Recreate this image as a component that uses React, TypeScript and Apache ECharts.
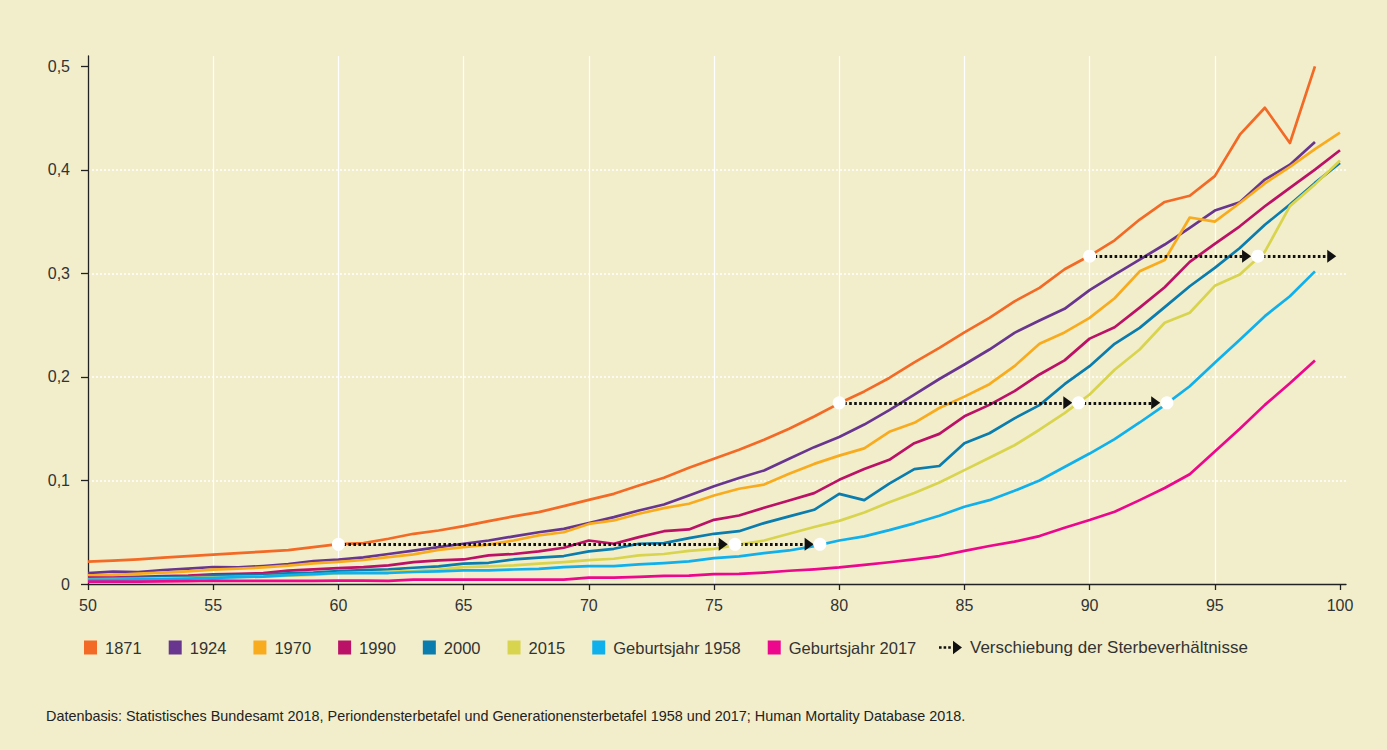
import React, { useEffect, useRef } from "react";
import * as echarts from "echarts";

const AGES: number[] = [];
for (let a = 50; a <= 100; a++) AGES.push(a);

const X_TICKS = [50, 55, 60, 65, 70, 75, 80, 85, 90, 95, 100];
const Y_TICKS = [0, 0.1, 0.2, 0.3, 0.4, 0.5];

const NAMES = ["1871", "1924", "1970", "1990", "2000", "2015", "Geburtsjahr 1958", "Geburtsjahr 2017"];
const COLORS = ["#f26a25", "#68368f", "#f9ab1e", "#bb1166", "#0a7cad", "#d9d44e", "#10b0ec", "#ec078d"];

// values for ages 50..100 (null = no value)
const V1871 = [0.0216, 0.0225, 0.0238, 0.0254, 0.027, 0.0283, 0.0299, 0.0312, 0.0328, 0.0357, 0.0386, 0.0395, 0.0437, 0.0485, 0.0517, 0.0559, 0.0607, 0.0653, 0.0694, 0.0752, 0.0813, 0.0871, 0.0952, 0.1026, 0.1122, 0.1209, 0.1296, 0.1393, 0.1499, 0.1618, 0.1745, 0.186, 0.199, 0.214, 0.228, 0.243, 0.257, 0.273, 0.286, 0.304, 0.317, 0.332, 0.352, 0.369, 0.375, 0.394, 0.434, 0.46, 0.426, 0.5, null];
const V1924 = [0.0106, 0.0119, 0.0116, 0.0135, 0.0148, 0.0164, 0.016, 0.0174, 0.0193, 0.0222, 0.0236, 0.0258, 0.029, 0.0322, 0.0356, 0.0389, 0.042, 0.046, 0.05, 0.0533, 0.0588, 0.0646, 0.071, 0.0768, 0.0855, 0.0945, 0.1023, 0.1097, 0.121, 0.1322, 0.142, 0.154, 0.168, 0.183, 0.198, 0.212, 0.2265, 0.2426, 0.2545, 0.2658, 0.2838, 0.2989, 0.3134, 0.3279, 0.344, 0.3607, 0.3687, 0.3906, 0.405, 0.427, null];
const V1970 = [0.0084, 0.0087, 0.01, 0.011, 0.0122, 0.0138, 0.0148, 0.016, 0.0177, 0.02, 0.0214, 0.0232, 0.026, 0.0286, 0.033, 0.0356, 0.038, 0.042, 0.047, 0.05, 0.058, 0.0614, 0.0678, 0.0733, 0.0775, 0.0855, 0.092, 0.096, 0.1064, 0.116, 0.124, 0.131, 0.147, 0.1557, 0.17, 0.181, 0.193, 0.2104, 0.232, 0.243, 0.257, 0.276, 0.302, 0.313, 0.354, 0.35, 0.368, 0.387, 0.403, 0.42, 0.436];
const V1990 = [0.0061, 0.0061, 0.0068, 0.0077, 0.008, 0.0093, 0.0097, 0.0106, 0.0129, 0.0142, 0.0154, 0.0163, 0.018, 0.0212, 0.0228, 0.0237, 0.0276, 0.029, 0.0315, 0.035, 0.042, 0.0389, 0.0453, 0.051, 0.0527, 0.062, 0.0662, 0.0736, 0.0807, 0.0878, 0.1006, 0.111, 0.12, 0.136, 0.145, 0.162, 0.173, 0.1863, 0.2024, 0.216, 0.237, 0.248, 0.267, 0.2867, 0.3111, 0.3285, 0.3455, 0.3649, 0.3826, 0.4003, 0.419];
const V2000 = [0.0051, 0.0055, 0.006, 0.0065, 0.007, 0.008, 0.0083, 0.009, 0.0103, 0.011, 0.0125, 0.0134, 0.0141, 0.0157, 0.017, 0.0196, 0.0205, 0.0237, 0.0254, 0.027, 0.0315, 0.034, 0.0389, 0.0395, 0.0443, 0.0485, 0.051, 0.0588, 0.0653, 0.0717, 0.087, 0.081, 0.097, 0.111, 0.114, 0.136, 0.1456, 0.16, 0.1728, 0.193, 0.2104, 0.232, 0.2474, 0.2674, 0.2876, 0.3053, 0.3246, 0.347, 0.3665, 0.3874, 0.4067];
const V2015 = [0.0045, 0.0047, 0.005, 0.0054, 0.0058, 0.0064, 0.0068, 0.0074, 0.008, 0.0088, 0.0105, 0.011, 0.0118, 0.0128, 0.014, 0.0163, 0.017, 0.018, 0.0196, 0.0212, 0.023, 0.0244, 0.0276, 0.029, 0.032, 0.034, 0.038, 0.042, 0.0485, 0.055, 0.061, 0.069, 0.079, 0.088, 0.098, 0.11, 0.122, 0.134, 0.149, 0.165, 0.183, 0.207, 0.2265, 0.2523, 0.262, 0.288, 0.299, 0.321, 0.365, 0.386, 0.409];
const V1958 = [0.0042, 0.0043, 0.0045, 0.0048, 0.0052, 0.006, 0.0066, 0.0072, 0.0085, 0.0095, 0.0106, 0.0106, 0.0106, 0.0116, 0.0122, 0.0131, 0.0131, 0.014, 0.0147, 0.0163, 0.0173, 0.0173, 0.0189, 0.0202, 0.0218, 0.025, 0.0266, 0.0299, 0.0324, 0.0366, 0.042, 0.046, 0.052, 0.0586, 0.066, 0.0746, 0.081, 0.09, 0.1, 0.113, 0.126, 0.14, 0.156, 0.1728, 0.191, 0.2136, 0.236, 0.2587, 0.278, 0.302, null];
const V2017 = [0.0023, 0.0023, 0.0023, 0.0025, 0.0027, 0.0032, 0.003, 0.003, 0.003, 0.003, 0.0033, 0.0033, 0.003, 0.0042, 0.0042, 0.0042, 0.0042, 0.0042, 0.0042, 0.0042, 0.0062, 0.0062, 0.0068, 0.0078, 0.008, 0.0095, 0.0097, 0.011, 0.0128, 0.0142, 0.016, 0.0185, 0.021, 0.0238, 0.027, 0.032, 0.0367, 0.0409, 0.0463, 0.0544, 0.0618, 0.0698, 0.081, 0.0927, 0.106, 0.128, 0.15, 0.173, 0.194, 0.216, null];

const VALUES = [V1871, V1924, V1970, V1990, V2000, V2015, V1958, V2017];

// shift arrows: [startAge, endAge, value]
const ARROWS: [number, number, number][] = [
  [60, 75.37, 0.0383],
  [75.84, 78.8, 0.0383],
  [80, 89.13, 0.175],
  [89.56, 92.64, 0.175],
  [90, 96.27, 0.3166],
  [96.72, 99.67, 0.3166],
];
// white markers: [age, value]
const DOTS: [number, number][] = [
  [60, 0.0383], [75.84, 0.0383], [79.23, 0.0383],
  [80, 0.175], [89.56, 0.175], [93.09, 0.175],
  [90, 0.3166], [96.72, 0.3166],
];

const ARROW_NAME = "Verschiebung der Sterbeverhältnisse";
const FOOTER = "Datenbasis: Statistisches Bundesamt 2018, Periondensterbetafel und Generationensterbetafel 1958 und 2017; Human Mortality Database 2018.";

const BG = "#f2eecb";
const FONT = "'Liberation Sans', Arial, sans-serif";

export default function App() {
  const ref = useRef<HTMLDivElement>(null);
  useEffect(() => {
    if (!ref.current) return;
    const chart = echarts.init(ref.current, null, { renderer: "svg" });
    const lineSeries = NAMES.map((name, i) => ({
      name,
      type: "line",
      data: AGES.map((a, j) => [a, VALUES[i][j]]).filter((p) => p[1] !== null),
      showSymbol: false,
      symbol: "none",
      color: COLORS[i],
      lineStyle: { color: COLORS[i], width: 2.7, join: "round" },
      z: 2 + i * 0.01,
    }));
    const option: any = {
      animation: false,
      backgroundColor: BG,
      textStyle: { fontFamily: FONT },
      grid: { left: 88, right: 41, top: 56, bottom: 166, containLabel: false },
      xAxis: {
        type: "value",
        min: 50,
        max: 100.24,
        interval: 5,
        axisLine: { show: true, lineStyle: { color: "#222", width: 1.3 } },
        axisTick: { show: true, length: 6, lineStyle: { color: "#222", width: 1.3 }, customValues: X_TICKS },
        axisLabel: {
          color: "#333",
          fontSize: 16,
          fontFamily: FONT,
          margin: 13,
          customValues: X_TICKS,
          formatter: (v: number) => (X_TICKS.includes(v) ? String(v) : ""),
        },
        splitLine: { show: true, showMinLine: false, showMaxLine: false, lineStyle: { color: "#ffffff", width: 1.2 } },
      },
      yAxis: {
        type: "value",
        min: 0,
        max: 0.51,
        interval: 0.1,
        axisLine: { show: true, lineStyle: { color: "#222", width: 1.3 } },
        axisTick: { show: true, length: 7, lineStyle: { color: "#222", width: 1.3 }, customValues: Y_TICKS },
        axisLabel: {
          color: "#333",
          fontSize: 16,
          fontFamily: FONT,
          margin: 18,
          customValues: Y_TICKS,
          formatter: (v: number) => {
            const t = Y_TICKS.find((y) => Math.abs(y - v) < 1e-6);
            if (t === undefined) return "";
            return t === 0 ? "0" : t.toFixed(1).replace(".", ",");
          },
        },
        splitLine: { show: true, showMinLine: false, showMaxLine: false, lineStyle: { color: "#ffffff", width: 1.6, type: [2, 2] } },
      },
      legend: [
        {
          data: NAMES,
          left: 79,
          top: 634,
          icon: "rect",
          itemWidth: 13,
          itemHeight: 14,
          itemGap: 27,
          selectedMode: false,
          itemStyle: { borderWidth: 0 },
          textStyle: { color: "#333", fontSize: 16.5, fontFamily: FONT, padding: [0, 0, 0, 3] },
        },
        {
          data: [{ name: ARROW_NAME, icon: "path://M0,5.5h2.6v2.6H0z M4.6,5.5h2.6v2.6H4.6z M9.2,5.5h2.6v2.6H9.2z M14,0L23,6.8L14,13.6z" }],
          left: 934,
          top: 634,
          itemWidth: 23,
          itemHeight: 14,
          selectedMode: false,
          itemStyle: { borderWidth: 0, color: "#111" },
          lineStyle: { width: 0 },
          textStyle: { color: "#333", fontSize: 17, fontFamily: FONT, padding: [0, 0, 0, 3] },
        },
      ],
      series: [
        ...lineSeries,
        {
          name: ARROW_NAME,
          type: "lines",
          coordinateSystem: "cartesian2d",
          color: "#111",
          symbol: ["none", "triangle"],
          symbolSize: [[13, 9], [13, 9]],
          lineStyle: { color: "#111", width: 3, type: [2.6, 2.4], opacity: 1 },
          itemStyle: { color: "#111" },
          data: ARROWS.map((a) => ({ coords: [[a[0], a[2]], [a[1], a[2]]] })),
          z: 5,
          silent: true,
        },
        {
          name: "dots",
          type: "scatter",
          symbol: "circle",
          symbolSize: 13,
          itemStyle: { color: "#ffffff", opacity: 1 },
          data: DOTS,
          z: 6,
          silent: true,
        },
      ],
      graphic: [
        {
          type: "text",
          left: 46,
          top: 709,
          style: { text: FOOTER, fill: "#222", fontSize: 14.4, fontFamily: FONT },
        },
      ],
    };
    chart.setOption(option);
    return () => chart.dispose();
  }, []);
  return (
    <div
      ref={ref}
      style={{ position: "fixed", left: 0, top: 0, width: 1387, height: 750, background: BG }}
    />
  );
}
